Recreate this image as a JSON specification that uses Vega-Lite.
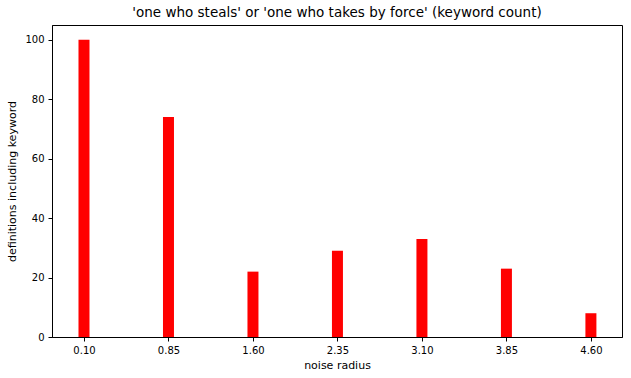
{
  "$schema": "https://vega.github.io/schema/vega-lite/v6.json",
  "width": 570,
  "height": 312,
  "autosize": "none",
  "padding": {"left": 52, "top": 25, "right": 9, "bottom": 41},
  "background": "white",
  "title": {"text": "'one who steals' or 'one who takes by force' (keyword count)", "font": "DejaVu Sans", "fontSize": 13.5, "fontWeight": "normal", "color": "black", "offset": 6},
  "data": {"values": [
    {"radius": 0.10, "count": 100},
    {"radius": 0.85, "count": 74},
    {"radius": 1.60, "count": 22},
    {"radius": 2.35, "count": 29},
    {"radius": 3.10, "count": 33},
    {"radius": 3.85, "count": 23},
    {"radius": 4.60, "count": 8}
  ]},
  "mark": {"type": "bar", "color": "#ff0000", "size": 11},
  "encoding": {
    "x": {"field": "radius", "type": "quantitative", "scale": {"domain": [-0.184, 4.876], "nice": false, "zero": false, "padding": 0},
      "axis": {"values": [0.10, 0.85, 1.60, 2.35, 3.10, 3.85, 4.60], "format": ".2f", "title": "noise radius", "grid": false, "titlePadding": 4}},
    "y": {"field": "count", "type": "quantitative", "scale": {"domain": [0, 105], "nice": false, "padding": 0},
      "axis": {"values": [0, 20, 40, 60, 80, 100], "title": "definitions including keyword", "grid": false, "titlePadding": 7}}
  },
  "config": {
    "view": {"stroke": "black", "strokeWidth": 1},
    "axis": {"labelFont": "DejaVu Sans", "titleFont": "DejaVu Sans", "labelFontSize": 10, "titleFontSize": 11, "titleFontWeight": "normal", "labelColor": "black", "titleColor": "black", "domainColor": "black", "tickColor": "black", "tickSize": 4, "labelPadding": 4}
  }
}
